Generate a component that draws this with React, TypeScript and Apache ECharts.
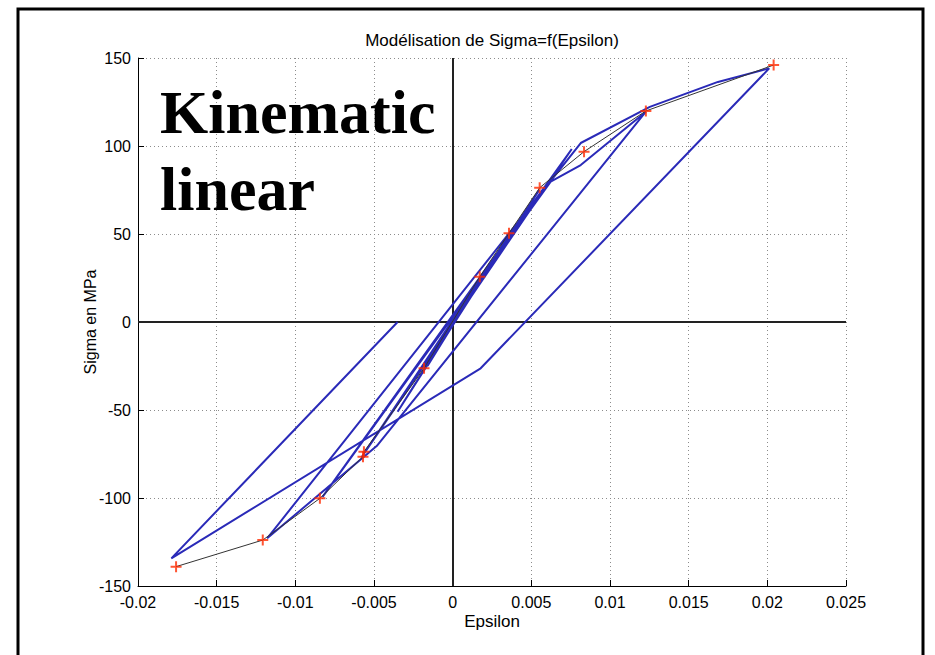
import React, { useEffect, useRef } from "react";
import * as echarts from "echarts";

// Axis ticks
const strainTicks = [-0.02, -0.015, -0.01, -0.005, 0, 0.005, 0.01, 0.015, 0.02, 0.025];
const stressTicks = [-150, -100, -50, 0, 50, 100, 150];

// Measured peak points (red crosses joined by a thin black line)
const measuredStrain = [-0.01758, -0.01207, -0.00844, -0.0057, -0.00564, -0.00182, 0.00172, 0.00358, 0.00553, 0.00835, 0.01228, 0.0204];
const measuredStress = [-139, -123.9, -100.2, -76.5, -73.7, -26.3, 25.7, 50.4, 76.3, 96.8, 119.9, 146];

// Kinematic linear hardening model response (blue path, in loading order)
const modelStrain = [
  0, 0.0018, -0.0016, 0.0036, -0.0035, 0.0055, -0.0058, 0.00757, -0.00827,
  0.00623, 0.00814, 0.01228, -0.00483, -0.01179, 0.00814, 0.01253, 0.01686,
  0.02012, 0.00178, -0.01788, -0.0035,
];
const modelStress = [
  0, 25.5, -25, 50, -51, 75, -77, 98.3, -99.4,
  79.7, 89.2, 119.5, -70.5, -122.9, 101.7, 122.2, 136.4,
  144.1, -26.3, -134.3, 0,
];

const LABEL_FONT = '"Liberation Sans", Arial, Helvetica, sans-serif';
const BIG_FONT = '"Liberation Serif", "Times New Roman", serif';

const fmtStrain = (v: number) => String(Number(v.toFixed(3)));

export default function App() {
  const ref = useRef<HTMLDivElement | null>(null);

  useEffect(() => {
    if (!ref.current) return;
    const chart = echarts.init(ref.current, undefined, { renderer: "svg" });

    const modelData = modelStrain.map((e, i) => [e, modelStress[i]]);
    const measuredData = measuredStrain.map((e, i) => [e, measuredStress[i]]);

    const gridLine = { show: true, lineStyle: { color: "#8c8c8c", width: 1, type: [1, 3] as any } };

    const centeredText = (text: string, x: number, y: number, size: number, extra: any = {}) => ({
      type: "text",
      x,
      y,
      ...extra,
      style: {
        text,
        fontSize: size,
        fontFamily: LABEL_FONT,
        fill: "#000",
        align: "center",
        verticalAlign: "middle",
        textAlign: "center",
        textVerticalAlign: "middle",
      },
    });

    const bigText = (text: string, y: number) => ({
      type: "text",
      x: 160,
      y,
      z: 50,
      style: {
        text,
        fontSize: 62,
        fontWeight: "bold",
        fontFamily: BIG_FONT,
        fill: "#000",
        align: "left",
        verticalAlign: "middle",
        textAlign: "left",
        textVerticalAlign: "middle",
      },
    });

    chart.setOption({
      animation: false,
      backgroundColor: "#ffffff",
      grid: { left: 138, right: 89, top: 58, bottom: 69, containLabel: false },
      xAxis: {
        type: "value",
        min: strainTicks[0],
        max: strainTicks[strainTicks.length - 1],
        interval: 0.005,
        axisLine: { show: true, onZero: false, lineStyle: { color: "#000", width: 1 } },
        axisTick: { show: true, inside: true, length: 6, lineStyle: { color: "#000" } },
        axisLabel: { color: "#000", fontSize: 16, fontFamily: LABEL_FONT, margin: 8, formatter: fmtStrain },
        splitLine: gridLine,
      },
      yAxis: {
        type: "value",
        min: stressTicks[0],
        max: stressTicks[stressTicks.length - 1],
        interval: 50,
        axisLine: { show: true, onZero: false, lineStyle: { color: "#000", width: 1 } },
        axisTick: { show: true, inside: true, length: 6, lineStyle: { color: "#000" } },
        axisLabel: { color: "#000", fontSize: 16, fontFamily: LABEL_FONT, margin: 7 },
        splitLine: gridLine,
      },
      graphic: [
        {
          type: "rect",
          shape: { x: 18, y: 9, width: 905, height: 720 },
          style: { fill: "none", stroke: "#000", lineWidth: 3 },
          z: 100,
        },
        centeredText("Modélisation de Sigma=f(Epsilon)", 492, 40, 17),
        centeredText("Epsilon", 492, 621, 17),
        centeredText("Sigma en MPa", 90, 322, 16, { rotation: Math.PI / 2 }),
        bigText("Kinematic", 112),
        bigText("linear", 189),
      ],
      series: [
        {
          name: "modele",
          type: "line",
          data: modelData,
          showSymbol: false,
          symbol: "none",
          lineStyle: { color: "#2a2ab8", width: 2 },
          z: 3,
          markLine: {
            silent: true,
            symbol: "none",
            label: { show: false },
            lineStyle: { color: "#222", width: 2, type: "solid" },
            data: [{ xAxis: 0 }, { yAxis: 0 }],
            z: 2,
          },
        },
        {
          name: "mesure",
          type: "line",
          data: measuredData,
          showSymbol: false,
          symbol: "none",
          lineStyle: { color: "#333", width: 1 },
          z: 4,
        },
        {
          name: "points",
          type: "scatter",
          data: measuredData,
          symbol: "path://M0,5L10,5M5,0L5,10",
          symbolSize: 11,
          itemStyle: { color: "none", borderColor: "#ff2a00", borderWidth: 2 },
          z: 5,
        },
      ],
    });

    return () => chart.dispose();
  }, []);

  return (
    <div
      ref={ref}
      style={{ position: "absolute", left: 0, top: 0, width: 935, height: 655, background: "#fff" }}
    />
  );
}
